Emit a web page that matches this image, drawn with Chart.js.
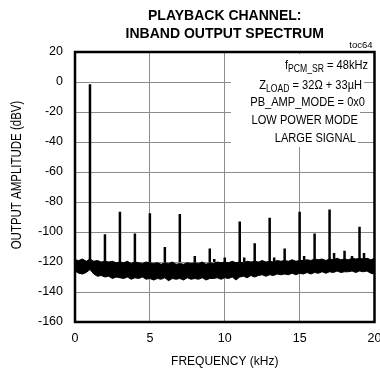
<!DOCTYPE html>
<html lang="en">
<head>
<meta charset="UTF-8">
<title>Playback Channel: Inband Output Spectrum</title>
<script src="https://cdn.jsdelivr.net/npm/chart.js"></script>
<style>
  html, body { margin: 0; padding: 0; background: #fff; }
  #wrap { width: 380px; height: 375px; position: relative; }
</style>
</head>
<body>
<div id="wrap"><canvas id="spectrum"></canvas></div>
<script>
const FAMILY = "'Liberation Sans', Arial, sans-serif";
const NARROW = 0.82; // squeeze for hand drawn text, the original uses a narrow face

const titleLines = ['PLAYBACK CHANNEL:', 'INBAND OUTPUT SPECTRUM'];
const freqTicks = [0, 5, 10, 15, 20];
const ampTicks = [20, 0, -20, -40, -60, -80, -100, -120, -140, -160];

// harmonics of the 1kHz tone (kHz, dBV)
const harmonicFreq = [1, 2, 3, 4, 5, 6, 7, 8, 9, 10, 11, 12, 13, 14, 15, 16, 17, 18, 19];
const harmonicLevel = [-1.5, -101.5, -86.5, -101, -87.5, -110, -88, -116, -111, -117,
                       -93, -107.5, -90.5, -111, -86.5, -101, -85, -112.5, -96.5];

// small spurs just above the floor
const spurFreq = [9.3, 11.3, 13.3, 15.3, 17.3, 18.5, 19.3];
const spurLevel = [-118, -117, -117, -116, -114, -116, -114];

// noise floor band (upper and lower edge), read every 0.25kHz
const noiseFreq = [0, 0.25, 0.5, 0.75, 1, 1.25, 1.5, 1.75, 2, 2.25, 2.5, 2.75, 3, 3.25, 3.5, 3.75,
  4, 4.25, 4.5, 4.75, 5, 5.25, 5.5, 5.75, 6, 6.25, 6.5, 6.75, 7, 7.25, 7.5, 7.75,
  8, 8.25, 8.5, 8.75, 9, 9.25, 9.5, 9.75, 10, 10.25, 10.5, 10.75, 11, 11.25, 11.5, 11.75,
  12, 12.25, 12.5, 12.75, 13, 13.25, 13.5, 13.75, 14, 14.25, 14.5, 14.75, 15, 15.25, 15.5, 15.75,
  16, 16.25, 16.5, 16.75, 17, 17.25, 17.5, 17.75, 18, 18.25, 18.5, 18.75, 19, 19.25, 19.5, 19.75, 20];
const noiseTop = [-118.5, -119, -118, -119.5, -118, -119.5, -119, -120,
  -119.5, -120, -119.5, -120.5, -120, -120.5, -119.5, -121,
  -120, -120.5, -121, -120, -120.5, -121, -120.5, -121.5,
  -120.5, -121, -120, -121.5, -121, -121.5, -120.5, -121,
  -120.5, -121, -120, -121.5, -120.5, -121, -120, -120.5,
  -120, -120.5, -119.5, -120.5, -120, -120.5, -119.5, -120,
  -119.5, -120, -119, -120, -119.5, -120, -119, -119.5,
  -119, -119.5, -118.5, -119.5, -119, -119, -118.5, -119,
  -118, -118.5, -118, -119, -118, -118.5, -117.5, -118.5,
  -118, -118.5, -117.5, -118, -117.5, -118, -117.5, -118.5, -117.5];
const noiseBottom = [-126, -127.5, -128, -127, -125, -128, -129.5, -129,
  -130, -129.5, -131, -130, -130.5, -131, -130, -131.5,
  -130.5, -131, -130, -131.5, -131, -132, -131, -131.5,
  -130.5, -132.5, -131, -131.5, -131, -132, -130.5, -131.5,
  -131, -131.5, -130.5, -132, -131, -131, -130.5, -131.5,
  -130.5, -131, -130, -132, -130, -129.5, -130.5, -129,
  -130, -129, -128.5, -129.5, -128.5, -129, -128, -128.5,
  -128, -128.5, -127.5, -128.5, -127.5, -128, -127, -128,
  -127, -127.5, -126.5, -127.5, -126.5, -127, -126, -127,
  -126.5, -126.5, -126, -127, -126, -126.5, -126, -127.5, -128];

const spikeBase = -120;

// annotation text, parts marked 'sub' are subscripts
const noteLines = [
  [['f'], ['PCM_SR', 'sub'], [' = 48kHz']],
  [['Z'], ['LOAD', 'sub'], [' = 32\u03A9 + 33\u00B5H']],
  [['PB_AMP_MODE = 0x0']],
  [['LOW POWER MODE']],
  [['LARGE SIGNAL']]
];

function spikePoints(freqs, levels) {
  const pts = [];
  freqs.forEach((f, i) => {
    pts.push({x: f, y: spikeBase}, {x: f, y: levels[i]}, {x: f, y: null});
  });
  return pts;
}

function partFont(p) {
  return p[1] === 'sub' ? '10.5px ' + FAMILY : '13.5px ' + FAMILY;
}

function drawRich(ctx, parts, right, y) {
  let w = 0;
  parts.forEach(p => { ctx.font = partFont(p); w += ctx.measureText(p[0]).width * NARROW; });
  let x = right - w;
  ctx.fillStyle = '#fff';
  ctx.fillRect(x - 2, y - 8, w + 4, 16);
  ctx.fillStyle = '#000';
  ctx.textAlign = 'left';
  ctx.textBaseline = 'middle';
  parts.forEach(p => {
    ctx.font = partFont(p);
    ctx.save();
    ctx.translate(x, p[1] === 'sub' ? y + 4 : y);
    ctx.scale(NARROW, 1);
    ctx.fillText(p[0], 0, 0);
    ctx.restore();
    x += ctx.measureText(p[0]).width * NARROW;
  });
}

const decor = {
  id: 'decor',
  beforeDatasetsDraw(chart) {
    const {ctx, chartArea: a} = chart;
    const rights = [-6.5, -12.5, -9.5, -16.5, -18.5];
    const ys = [13, 33, 50, 68, 86];
    ctx.save();
    ctx.fillStyle = '#fff';
    ctx.fillRect(a.left + 156, a.top + 2, 126, 93);
    noteLines.forEach((parts, i) => drawRich(ctx, parts, a.right + rights[i], a.top + ys[i]));
    ctx.restore();
  },
  afterDatasetsDraw(chart) {
    const {ctx, chartArea: a} = chart;
    ctx.save();
    ctx.strokeStyle = '#000';
    ctx.lineWidth = 2.5;
    ctx.strokeRect(a.left, a.top, a.right - a.left, a.bottom - a.top);
    ctx.restore();
  },
  afterDraw(chart) {
    const {ctx, chartArea: a} = chart;
    ctx.save();
    ctx.fillStyle = '#000';
    ctx.font = '9.5px ' + FAMILY;
    ctx.textAlign = 'right';
    ctx.textBaseline = 'bottom';
    ctx.fillText('toc64', a.right - 2, a.top - 2);
    ctx.translate(17.5, 175);
    ctx.rotate(-Math.PI / 2);
    ctx.scale(NARROW, 1);
    ctx.font = '14px ' + FAMILY;
    ctx.textAlign = 'center';
    ctx.textBaseline = 'middle';
    ctx.fillText('OUTPUT AMPLITUDE (dBV)', 0, 0);
    ctx.restore();
  }
};

const gridColor = '#8c8c8c';

new Chart(document.getElementById('spectrum'), {
  type: 'line',
  data: {
    datasets: [
      {
        data: noiseFreq.map((f, i) => ({x: f, y: noiseTop[i]})),
        borderColor: '#000', borderWidth: 1, pointRadius: 0, fill: false
      },
      {
        data: noiseFreq.map((f, i) => ({x: f, y: noiseBottom[i]})),
        borderColor: '#000', borderWidth: 1, pointRadius: 0,
        fill: '-1', backgroundColor: '#000'
      },
      {
        data: spikePoints(harmonicFreq.concat(spurFreq), harmonicLevel.concat(spurLevel)),
        borderColor: '#000', borderWidth: 2.5, pointRadius: 0, spanGaps: false, fill: false
      }
    ]
  },
  options: {
    responsive: true,
    maintainAspectRatio: false,
    animation: false,
    layout: { padding: { top: 0, right: 5.5, bottom: 0, left: 0 } },
    plugins: {
      legend: { display: false },
      tooltip: { enabled: false },
      title: {
        display: true,
        fullSize: false,
        text: titleLines,
        color: '#000',
        font: { family: FAMILY, size: 14, weight: 'bold', lineHeight: '17.5px' },
        padding: { top: 7.5, bottom: 9.5 }
      }
    },
    scales: {
      x: {
        type: 'linear', min: 0, max: 20,
        afterBuildTicks: s => { s.ticks = freqTicks.map(v => ({value: v})); },
        grid: { color: gridColor, lineWidth: 1, drawTicks: false },
        border: { display: false },
        ticks: { padding: 9, color: '#000', maxRotation: 0, autoSkip: false,
                 font: { family: FAMILY, size: 12.5 } },
        title: { display: true, text: 'FREQUENCY (kHz)', color: '#000',
                 font: { family: FAMILY, size: 12 }, padding: { top: 0, bottom: 6.5 } },
        afterFit: s => { s.height = 53; s.paddingLeft = 0; s.paddingRight = 0; }
      },
      y: {
        min: -160, max: 20,
        afterBuildTicks: s => { s.ticks = ampTicks.map(v => ({value: v})); },
        grid: { color: gridColor, lineWidth: 1, drawTicks: false },
        border: { display: false },
        ticks: { padding: 12, color: '#000', font: { family: FAMILY, size: 12.5 } },
        afterFit: s => { s.width = 75; s.paddingTop = 0; s.paddingBottom = 0; }
      }
    }
  },
  plugins: [decor]
});
</script>
</body>
</html>
